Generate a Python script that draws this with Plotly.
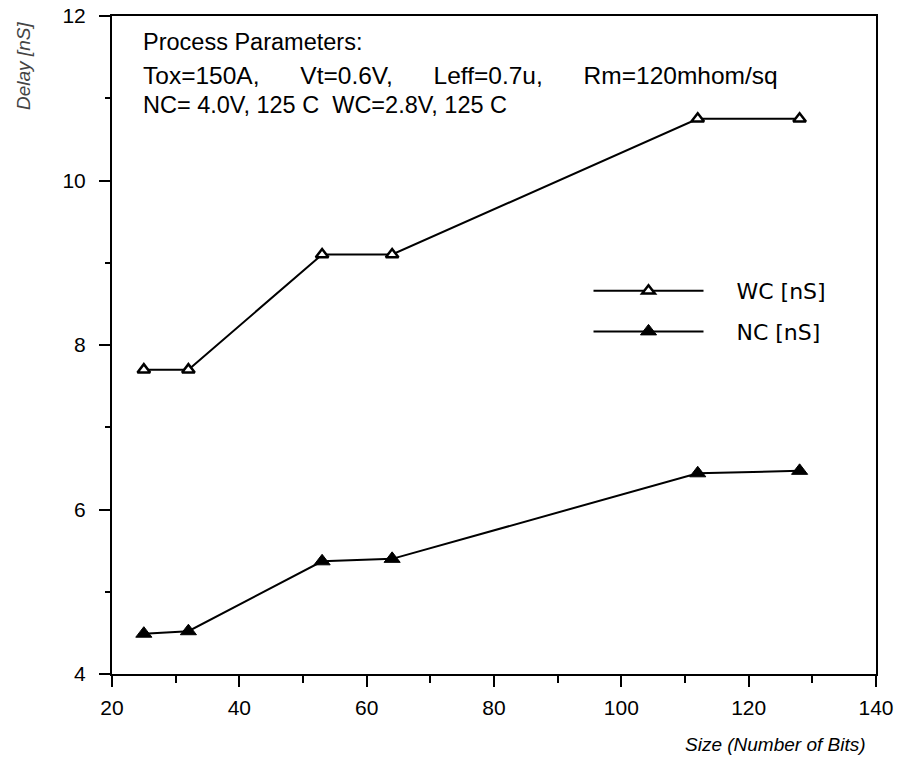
import plotly.graph_objects as go

size_bits = [25, 32, 53, 64, 112, 128]
wc_delay = [7.7, 7.7, 9.1, 9.1, 10.75, 10.75]
nc_delay = [4.49, 4.52, 5.37, 5.4, 6.44, 6.47]

x_ticks = [20, 40, 60, 80, 100, 120, 140]
y_ticks = [4, 6, 8, 10, 12]

FONT = "Liberation Sans, Arial, Helvetica, sans-serif"
LFONT = "DejaVu Sans, Liberation Sans, sans-serif"
nb = "\u00a0"

fig = go.Figure()
fig.add_trace(go.Scatter(
    x=size_bits, y=wc_delay, mode="lines+markers", name=nb * 4 + "WC [nS]",
    legendgroup="wc",
    line=dict(color="black", width=2),
    marker=dict(symbol="triangle-up", size=11, color="white",
                line=dict(color="black", width=2.5)),
))
fig.add_trace(go.Scatter(
    x=size_bits, y=nc_delay, mode="lines+markers", name=nb * 4 + "NC [nS]",
    legendgroup="nc",
    line=dict(color="black", width=2),
    marker=dict(symbol="triangle-up", size=14, color="black",
                line=dict(color="black", width=1)),
))

axis_common = dict(
    showgrid=False, zeroline=False, showline=True, linecolor="black",
    linewidth=2, mirror=True, ticks="outside", tickcolor="black",
    tickwidth=2, ticklen=11, automargin=False, ticklabeloverflow="allow",
    tickfont=dict(family=FONT, size=21, color="black"),
)
fig.update_xaxes(range=[20, 140], tickvals=x_ticks, ticklabelstandoff=3,
                 minor=dict(dtick=10, ticks="outside", ticklen=7,
                            tickwidth=2, tickcolor="black", tick0=20),
                 **axis_common)
fig.update_yaxes(range=[4, 12], tickvals=y_ticks, ticklabelstandoff=9,
                 minor=dict(dtick=1, ticks="outside", ticklen=5,
                            tickwidth=2, tickcolor="black", tick0=4),
                 **axis_common)

gap = nb * 6
text_lines = [
    "Process Parameters:",
    f"Tox=150A,{gap}Vt=0.6V,{gap}Leff=0.7u,{gap}Rm=120mhom/sq",
    f"NC={nb}4.0V,{nb}125{nb}C{nb}{nb}WC=2.8V,{nb}125{nb}C",
]
text_y = [0.9605, 0.9103, 0.8647]
text_size = [23.5, 24.5, 23.5]
for t, yy, fs in zip(text_lines, text_y, text_size):
    fig.add_annotation(
        xref="paper", yref="paper", x=0.038, y=yy, xanchor="left", yanchor="middle",
        text=t, showarrow=False, align="left",
        font=dict(family=FONT, size=fs, color="black"),
    )
fig.add_annotation(
    xref="paper", yref="paper", x=-0.1165, y=0.924, xanchor="center", yanchor="middle",
    text="<i>Delay [nS]</i>", showarrow=False, textangle=-90,
    font=dict(family=FONT, size=19, color="#444444"),
)
fig.add_annotation(
    xref="paper", yref="paper", x=0.9895, y=-0.1079, xanchor="right", yanchor="middle",
    text="<i>Size (Number of Bits)</i>", showarrow=False,
    font=dict(family=FONT, size=19, color="black"),
)

fig.update_layout(
    width=908, height=761,
    margin=dict(l=112, r=32, t=16, b=87),
    plot_bgcolor="white", paper_bgcolor="white",
    showlegend=True,
    legend=dict(x=0.6237, y=0.614, xanchor="left", yanchor="top",
                bgcolor="rgba(0,0,0,0)", itemwidth=110,
                font=dict(family=LFONT, size=22, color="black"),
                tracegroupgap=9),
)

fig.write_html("out.html", config={"displayModeBar": False},
               post_script="document.body.style.margin='0';")
